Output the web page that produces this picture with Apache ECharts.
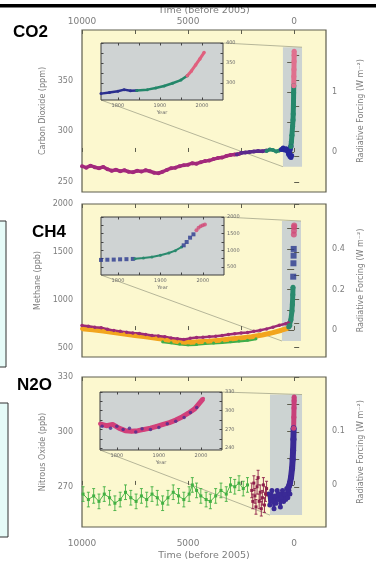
<!DOCTYPE html>
<html>
<head>
<meta charset="utf-8">
<script src="https://cdn.jsdelivr.net/npm/echarts@6/dist/echarts.min.js"></script>
<style>
  html, body { margin: 0; padding: 0; background: #fff; }
  #main { width: 376px; height: 562px; }
</style>
</head>
<body>
<div id="main"></div>
<script>
// ---- axes ticks / labels ----
var yearTicks = [10000, 7500, 5000, 2500, 0];
var yearLabels = [10000, 5000, 0];
var insetYearTicks = [1800, 1850, 1900, 1950, 2000];
var insetYearLabels = [1800, 1900, 2000];

var co2Ticks = [250, 275, 300, 325, 350, 375];
var co2Labels = [250, 300, 350];
var co2ForcingTicks = [0, 0.5, 1, 1.5];
var co2ForcingLabels = [0, 1];
var ch4Ticks = [500, 750, 1000, 1250, 1500, 1750, 2000];
var ch4Labels = [500, 1000, 1500, 2000];
var ch4ForcingTicks = [0, 0.1, 0.2, 0.3, 0.4, 0.5];
var ch4ForcingLabels = [0, 0.2, 0.4];
var n2oTicks = [270, 285, 300, 315, 330];
var n2oLabels = [270, 300, 330];
var n2oForcingTicks = [0, 0.05, 0.1, 0.15];
var n2oForcingLabels = [0, 0.1];

var co2InsetTicks = [275, 300, 325, 350, 375, 400];
var co2InsetLabels = [300, 350, 400];
var ch4InsetTicks = [500, 750, 1000, 1250, 1500, 1750, 2000];
var ch4InsetLabels = [500, 1000, 1500, 2000];
var n2oInsetTicks = [240, 255, 270, 285, 300, 315, 330];
var n2oInsetLabels = [240, 270, 300, 330];

// ---- CO2 (ppm), x = years before 2005 ----
var co2Magenta = [[10000,265.5],[9800,264.0],[9600,266.0],[9400,264.5],[9200,263.5],[9000,264.8],[8800,262.5],[8600,261.0],[8400,262.0],[8200,260.5],[8000,261.5],[7800,260.0],[7600,259.5],[7400,261.0],[7200,260.2],[7000,261.5],[6800,260.5],[6600,259.0],[6400,258.5],[6200,260.0],[6000,261.8],[5800,263.5],[5600,264.0],[5400,265.5],[5200,266.5],[5000,267.0],[4800,268.5],[4600,268.0],[4400,269.5],[4200,270.5],[4000,271.0],[3800,272.5],[3600,273.5],[3400,274.0],[3200,275.5],[3000,276.5],[2800,277.0],[2600,277.5]];
var co2Purple = [[2700,277.0],[2500,278.5],[2300,279.0],[2100,279.5],[1900,280.0],[1700,280.5],[1500,280.2],[1300,281.0]];
var co2Green = [[1300,280.5],[1150,282.0],[1000,281.5],[850,280.0],[700,281.0],[600,282.0]];
var co2Blue = [[600,282.0],[520,283.5],[450,281.5],[380,282.8],[320,280.5],[270,278.0],[200,275.0],[150,274.0],[120,276.0]];
var co2SpikeBlue = [[255,277],[230,279],[205,281],[180,283],[155,285]];
var co2SpikeGreen = [[155,285],[130,290],[105,296],[75,305],[55,311],[45,317],[35,325],[25,338],[20,345]];
var co2SpikePink = [[20,345],[15,354],[10,361],[5,369],[2,375],[0,379]];
var co2Band = [530, -370, 265, 383];

// CO2 inset (year AD)
var co2InsetBlue = [[1760,273],[1780,276],[1800,279],[1815,283],[1830,280],[1845,281]];
var co2InsetGreen = [[1845,281],[1870,283],[1890,287],[1910,292],[1930,299],[1950,307],[1965,318]];
var co2InsetPink = [[1965,318],[1975,330],[1985,345],[1995,360],[2005,376]];

// ---- CH4 (ppb) ----
var ch4Magenta = [[10000,730],[9700,722],[9400,712],[9100,705],[8800,690],[8500,676],[8200,668],[7900,660],[7600,652],[7300,646],[7000,635],[6700,626],[6400,620],[6100,612],[5800,600],[5500,590],[5200,582],[4900,595],[4600,604],[4300,606],[4000,612],[3700,616],[3400,625],[3100,636],[2800,643],[2500,650],[2200,656],[1900,668],[1600,680],[1300,694],[1000,712],[700,732],[400,748],[250,760]];
var ch4Orange = [[10000,695],[9500,685],[9000,672],[8500,655],[8000,640],[7500,625],[7000,612],[6500,596],[6000,580],[5500,562],[5000,552],[4500,560],[4000,566],[3500,575],[3000,588],[2500,600],[2000,612],[1500,630],[1000,655],[600,680],[300,700]];
var ch4Green = [[6200,560],[5800,548],[5400,535],[5000,528],[4600,532],[4200,540],[3800,546],[3400,552],[3000,560],[2600,568],[2200,575],[1800,590]];
var ch4SpikeGreen = [[255,715],[205,730],[155,790],[105,880],[85,950],[65,1050],[55,1130]];
var ch4SpikeBlue = [[45,1240],[35,1380],[28,1460],[22,1530]];
var ch4SpikePink = [[15,1680],[8,1720],[3,1760],[0,1774]];
var ch4Band = [575, -320, 567, 1822];

var ch4InsetBlue = [[1760,712],[1775,718],[1790,722],[1805,730],[1820,735],[1835,742]];
var ch4InsetGreen = [[1840,750],[1860,770],[1880,800],[1900,850],[1920,920],[1935,990],[1950,1100]];
var ch4InsetBlue2 = [[1955,1150],[1962,1250],[1970,1380],[1978,1480]];
var ch4InsetPink = [[1985,1600],[1990,1680],[1995,1720],[2000,1750],[2005,1774]];

// ---- N2O (ppb) ----
var n2oGreen = [[9950,266],[9700,263],[9450,265],[9200,262],[8950,266],[8700,264],[8450,261],[8200,263],[7950,267],[7700,264],[7450,262],[7200,265],[6950,263],[6700,266],[6450,264],[6200,261],[5950,264],[5700,267],[5450,265],[5200,263],[4950,266],[4800,271],[4600,268],[4400,265],[4150,263],[3950,262],[3700,265],[3450,268],[3200,266],[3000,271],[2800,270],[2600,272],[2400,269],[2200,271]];
var n2oGreenErr = 4;
var n2oRed = [[2000,268],[1950,262],[1900,272],[1850,265],[1800,259],[1750,270],[1700,275],[1650,262],[1600,267],[1550,258],[1500,264],[1450,271],[1400,260],[1350,266],[1300,269]];
var n2oBlue = [[1200,266],[1150,260],[1100,263],[1050,268],[1000,262],[950,258],[900,265],[850,261],[800,268],[750,263],[700,266],[650,259],[600,264],[550,268],[500,262],[450,266],[400,263],[350,269],[300,264],[250,268],[200,266]];
var n2oSpikePurple = [[255,270],[200,272],[150,275],[100,280],[70,285],[50,290],[35,296],[25,302]];
var n2oSpikePink = [[25,302],[15,308],[8,313],[3,317],[0,319]];
var n2oBand = [1140, -370, 254.5, 320.4];

var n2oInsetPink = [[1760,279],[1775,276],[1790,278],[1805,272],[1820,268],[1835,267],[1850,268],[1865,270],[1880,272],[1895,275],[1910,278],[1925,281],[1940,285],[1955,290],[1970,296],[1985,303],[1995,311],[2005,319]];
var n2oInsetPurple = [[1765,275],[1785,272],[1800,275],[1815,270],[1830,272],[1845,266],[1860,271],[1880,270],[1900,273],[1920,279],[1940,283],[1960,289],[1975,297],[1990,305]];

// ---- layout ----
var FONT = 'DejaVu Sans';
var LABEL = '#7d7d7d';
var FRAME = '#5e5e4e';
var panels = [
  {top: 30, height: 162, yMin: 240, yMax: 400, fMin: -0.667, fMax: 2.033, ticks: co2Ticks, labels: co2Labels, fTicks: co2ForcingTicks, fLabels: co2ForcingLabels, name: 'Carbon Dioxide (ppm)', band: co2Band},
  {top: 204, height: 153, yMin: 400, yMax: 2000, fMin: -0.133, fMax: 0.622, ticks: ch4Ticks, labels: ch4Labels, fTicks: ch4ForcingTicks, fLabels: ch4ForcingLabels, name: 'Methane (ppb)', band: ch4Band},
  {top: 377, height: 150, yMin: 248, yMax: 330, fMin: -0.078, fMax: 0.2, ticks: n2oTicks, labels: n2oLabels, fTicks: n2oForcingTicks, fLabels: n2oForcingLabels, name: 'Nitrous Oxide (ppb)', band: n2oBand}
];
var insets = [
  {left: 101, top: 43, width: 122, height: 57, yMin: 257, yMax: 400, ticks: co2InsetTicks, labels: co2InsetLabels},
  {left: 101, top: 217, width: 123, height: 58, yMin: 260, yMax: 2000, ticks: ch4InsetTicks, labels: ch4InsetLabels},
  {left: 100, top: 392, width: 122, height: 58, yMin: 237, yMax: 330, ticks: n2oInsetTicks, labels: n2oInsetLabels}
];

var plain = function (v) { return String(v); };
var chart = echarts.init(document.getElementById('main'));

var grids = [], xAxes = [], yAxes = [], series = [];

panels.forEach(function (p) {
  grids.push({left: 82, width: 244, top: p.top, height: p.height, show: true,
    backgroundColor: '#fcf8cf', borderColor: FRAME, borderWidth: 1.2});
});
insets.forEach(function (p) {
  grids.push({left: p.left, top: p.top, width: p.width, height: p.height, show: true,
    backgroundColor: '#cfd3d3', borderColor: '#3c3c3c', borderWidth: 1, z: 10});
});

function mainX(i, pos, showLabel, name, nameGap, margin) {
  return {
    type: 'value', gridIndex: i, position: pos, min: -1500, max: 10000, inverse: true, z: 1,
    axisLine: {show: false}, splitLine: {show: false},
    axisTick: {inside: true, length: 4, customValues: yearTicks, lineStyle: {color: FRAME}},
    axisLabel: {show: showLabel, customValues: yearLabels, formatter: plain, color: LABEL,
      fontSize: 9, fontFamily: FONT, margin: margin},
    name: name, nameLocation: 'middle', nameGap: nameGap,
    nameTextStyle: {color: LABEL, fontSize: 9.5, fontFamily: FONT}
  };
}
// 0-2 bottom, 3-5 top
xAxes.push(mainX(0, 'bottom', false, '', 0, 0));
xAxes.push(mainX(1, 'bottom', false, '', 0, 0));
xAxes.push(mainX(2, 'bottom', true, 'Time (before 2005)', 24, 12));
xAxes.push(mainX(0, 'top', true, 'Time (before 2005)', 14, 4));
xAxes.push(mainX(1, 'top', false, '', 0, 0));
xAxes.push(mainX(2, 'top', false, '', 0, 0));

panels.forEach(function (p, i) {
  yAxes[i] = {
    type: 'value', gridIndex: i, position: 'left', min: p.yMin, max: p.yMax, z: 1,
    axisLine: {show: false}, splitLine: {show: false},
    axisTick: {inside: true, length: 5, customValues: p.ticks, lineStyle: {color: FRAME}},
    axisLabel: {customValues: p.labels, formatter: plain, color: LABEL, fontSize: 8, fontFamily: FONT, margin: 9},
    name: p.name, nameLocation: 'middle', nameGap: 33,
    nameTextStyle: {color: LABEL, fontSize: 8, fontFamily: FONT}
  };
  yAxes[3 + i] = {
    type: 'value', gridIndex: i, position: 'right', min: p.fMin, max: p.fMax, z: 1,
    axisLine: {show: false}, splitLine: {show: false},
    axisTick: {inside: true, length: 7, customValues: p.fTicks, lineStyle: {color: FRAME}},
    axisLabel: {customValues: p.fLabels, formatter: plain, color: LABEL, fontSize: 8, fontFamily: FONT, margin: 6},
    name: 'Radiative Forcing (W m\u207B\u00B2)', nameLocation: 'middle', nameGap: 31, nameRotate: 90,
    nameTextStyle: {color: LABEL, fontSize: 8, fontFamily: FONT}
  };
});

insets.forEach(function (p, i) {
  xAxes[6 + i] = {
    type: 'value', gridIndex: 3 + i, position: 'bottom', min: 1760, max: 2050, z: 11,
    axisLine: {show: false}, splitLine: {show: false},
    axisTick: {inside: true, length: 2.5, customValues: insetYearTicks, lineStyle: {color: '#444'}},
    axisLabel: {customValues: insetYearLabels, formatter: plain, color: '#6a6a6a', fontSize: 5, fontFamily: FONT, margin: 3},
    name: 'Year', nameLocation: 'middle', nameGap: 10,
    nameTextStyle: {color: '#6a6a6a', fontSize: 5, fontFamily: FONT}
  };
  xAxes[9 + i] = {
    type: 'value', gridIndex: 3 + i, position: 'top', min: 1760, max: 2050, z: 11,
    axisLine: {show: false}, splitLine: {show: false}, axisLabel: {show: false},
    axisTick: {inside: true, length: 2.5, customValues: insetYearTicks, lineStyle: {color: '#444'}}
  };
  yAxes[6 + i] = {
    type: 'value', gridIndex: 3 + i, position: 'right', min: p.yMin, max: p.yMax, z: 11,
    axisLine: {show: false}, splitLine: {show: false},
    axisTick: {inside: true, length: 2.5, customValues: p.ticks, lineStyle: {color: '#444'}},
    axisLabel: {customValues: p.labels, formatter: plain, color: '#6a6a6a', fontSize: 5, fontFamily: FONT, margin: 3}
  };
  yAxes[9 + i] = {
    type: 'value', gridIndex: 3 + i, position: 'left', min: p.yMin, max: p.yMax, z: 11,
    axisLine: {show: false}, splitLine: {show: false}, axisLabel: {show: false},
    axisTick: {inside: true, length: 2.5, customValues: p.ticks, lineStyle: {color: '#444'}}
  };
});

function line(ax, data, color, width, sym, symSize, z) {
  return {
    type: 'line', xAxisIndex: ax, yAxisIndex: ax, data: data, silent: true, animation: false,
    z: z || 2, symbol: sym || 'circle', symbolSize: symSize || 3, showSymbol: true,
    lineStyle: {color: color, width: width}, itemStyle: {color: color}
  };
}
function scatter(ax, data, color, sym, size, z) {
  return {type: 'scatter', xAxisIndex: ax, yAxisIndex: ax, data: data, silent: true, animation: false,
    z: z || 2, symbol: sym, symbolSize: size, itemStyle: {color: color}};
}
function bandSeries(i) {
  var b = panels[i].band;
  return {type: 'line', xAxisIndex: i, yAxisIndex: i, data: [], z: 1, silent: true, animation: false,
    markArea: {silent: true, animation: false, itemStyle: {color: '#c6ced2', opacity: 0.9},
      data: [[{coord: [b[0], b[3]]}, {coord: [b[1], b[2]]}]]}};
}
function errorBars(ax, data, err, color) {
  return {
    type: 'custom', xAxisIndex: ax, yAxisIndex: ax, data: data, silent: true, animation: false, z: 3,
    encode: {x: 0, y: 1},
    renderItem: function (params, api) {
      var x = api.value(0), y = api.value(1);
      var c = api.coord([x, y]);
      var hi = api.coord([x, y + err]), lo = api.coord([x, y - err]);
      var st = {stroke: color, lineWidth: 0.9};
      return {type: 'group', children: [
        {type: 'line', shape: {x1: c[0], y1: hi[1], x2: c[0], y2: lo[1]}, style: st},
        {type: 'line', shape: {x1: c[0] - 1.5, y1: hi[1], x2: c[0] + 1.5, y2: hi[1]}, style: st},
        {type: 'line', shape: {x1: c[0] - 1.5, y1: lo[1], x2: c[0] + 1.5, y2: lo[1]}, style: st},
        {type: 'rect', shape: {x: c[0] - 1.5, y: c[1] - 1.5, width: 3, height: 3}, style: {fill: color}}
      ]};
    }
  };
}

// panel 1: CO2
series.push(bandSeries(0));
series.push(line(0, co2Magenta, '#a3297c', 3.5, 'circle', 4));
series.push(line(0, co2Purple, '#5b2a8c', 3.5, 'circle', 4));
series.push(line(0, co2Green, '#26886c', 3.5, 'circle', 4));
series.push(line(0, co2Blue, '#27279a', 4, 'circle', 5));
series.push(line(0, co2SpikeBlue, '#27279a', 5, 'circle', 5));
series.push(line(0, co2SpikeGreen, '#26886c', 5, 'circle', 5));
series.push(line(0, co2SpikePink, '#e0708e', 5, 'circle', 5));
// panel 2: CH4
series.push(bandSeries(1));
series.push(line(1, ch4Green, '#3fae4a', 3, 'circle', 3));
series.push(line(1, ch4Orange, '#f2a51e', 5, 'circle', 4));
series.push(line(1, ch4Magenta, '#9c2a76', 2.5, 'circle', 3.5));
series.push(line(1, ch4SpikeGreen, '#2a8a6e', 5, 'circle', 5));
series.push(scatter(1, ch4SpikeBlue, '#2b3a8f', 'rect', 6));
series.push(scatter(1, ch4SpikePink, '#d24a78', 'circle', 6));
// panel 3: N2O
series.push(bandSeries(2));
series.push(line(2, n2oGreen, '#4db84a', 1, 'none', 0));
series.push(errorBars(2, n2oGreen, n2oGreenErr, '#43b043'));
series.push(errorBars(2, n2oRed, n2oGreenErr, '#8e1f4a'));
series.push(line(2, n2oBlue, '#3a2a96', 2.5, 'circle', 5));
series.push(line(2, n2oSpikePurple, '#3a2a96', 6, 'circle', 6));
series.push(line(2, n2oSpikePink, '#c8407a', 5, 'circle', 5));

// insets
series.push(line(6, co2InsetBlue, '#2b2f8f', 2.5, 'circle', 3, 12));
series.push(line(6, co2InsetGreen, '#24876a', 2.5, 'circle', 3, 12));
series.push(line(6, co2InsetPink, '#e0607e', 3, 'circle', 3.5, 12));
series.push(scatter(7, ch4InsetBlue, '#2b3a8f', 'rect', 4, 12));
series.push(line(7, ch4InsetGreen, '#2a8a6e', 2, 'circle', 3, 12));
series.push(scatter(7, ch4InsetBlue2, '#2b3a8f', 'rect', 4, 12));
series.push(scatter(7, ch4InsetPink, '#d24a78', 'circle', 4, 12));
series.push(line(8, n2oInsetPink, '#d2407a', 5, 'circle', 4, 12));
series.push(scatter(8, n2oInsetPurple, '#4a2d90', 'circle', 3.5, 13));

chart.setOption({
  animation: false,
  grid: grids,
  xAxis: xAxes,
  yAxis: yAxes,
  series: series
});

// connector lines from each inset to the highlighted band
var graphics = [];
panels.forEach(function (p, i) {
  var b = p.band, ins = insets[i];
  var bl = chart.convertToPixel({xAxisIndex: i, yAxisIndex: i}, [b[0], b[2]]);
  var tr = chart.convertToPixel({xAxisIndex: i, yAxisIndex: i}, [b[1], b[3]]);
  var st = {stroke: '#a3a48a', lineWidth: 0.8};
  graphics.push({type: 'line', z: 1, silent: true,
    shape: {x1: ins.left, y1: ins.top + ins.height, x2: bl[0], y2: bl[1]}, style: st});
  graphics.push({type: 'line', z: 1, silent: true,
    shape: {x1: ins.left + ins.width, y1: ins.top, x2: tr[0], y2: tr[1]}, style: st});
});
// frame pieces outside the plots
graphics.push({type: 'rect', z: 100, silent: true, shape: {x: 0, y: 4, width: 376, height: 3.5}, style: {fill: '#000'}});
graphics.push({type: 'rect', z: 100, silent: true, shape: {x: -2, y: 221, width: 8, height: 146}, style: {fill: '#e6fbf8', stroke: '#333', lineWidth: 1}});
graphics.push({type: 'rect', z: 100, silent: true, shape: {x: -2, y: 403, width: 10, height: 134}, style: {fill: '#e6fbf8', stroke: '#333', lineWidth: 1}});
var gasFont = 'bold 17px "Liberation Sans", Arial, sans-serif';
graphics.push({type: 'text', z: 100, silent: true, left: 13, top: 24, style: {text: 'CO2', font: gasFont, fill: '#000'}});
graphics.push({type: 'text', z: 100, silent: true, left: 32, top: 224, style: {text: 'CH4', font: gasFont, fill: '#000'}});
graphics.push({type: 'text', z: 100, silent: true, left: 17, top: 377, style: {text: 'N2O', font: gasFont, fill: '#000'}});

chart.setOption({graphic: graphics});
</script>
</body>
</html>
